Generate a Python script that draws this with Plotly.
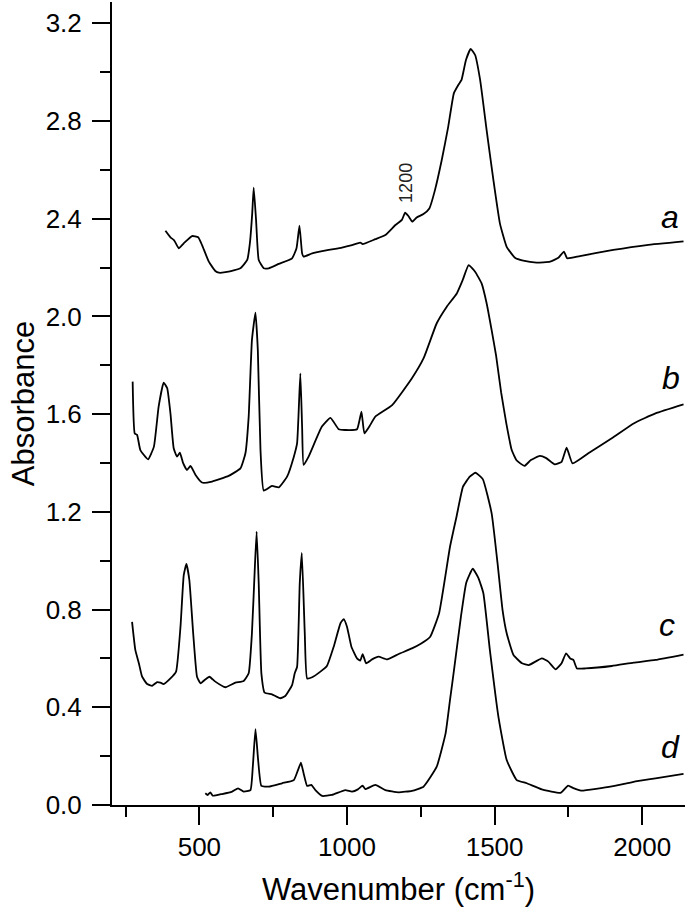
import plotly.graph_objects as go

# Spectrum a
a_x = [385, 402, 413, 419, 430, 447, 475, 496, 509, 532, 554, 566, 599, 639, 662, 671, 679, 684, 692, 701,
       718, 735, 769, 814, 829, 839, 848, 853, 882, 938, 983, 1017, 1045, 1053, 1096, 1130, 1164, 1186,
       1197, 1208, 1221, 1236, 1259, 1279, 1298, 1321, 1343, 1362, 1377, 1388, 1403, 1419, 1434, 1451,
       1473, 1496, 1518, 1541, 1569, 1597, 1642, 1688, 1716, 1735, 1746, 1789, 1902, 2015, 2140]
a_y = [2.351, 2.324, 2.313, 2.302, 2.279, 2.299, 2.329, 2.324, 2.292, 2.224, 2.186, 2.179, 2.183, 2.197,
       2.231, 2.299, 2.422, 2.527, 2.395, 2.231, 2.197, 2.197, 2.215, 2.238, 2.279, 2.372, 2.258, 2.245,
       2.258, 2.272, 2.282, 2.292, 2.302, 2.296, 2.316, 2.333, 2.374, 2.395, 2.425, 2.411, 2.388, 2.405,
       2.419, 2.442, 2.517, 2.640, 2.777, 2.913, 2.947, 2.968, 3.050, 3.095, 3.070, 2.968, 2.763, 2.558,
       2.381, 2.285, 2.240, 2.228, 2.220, 2.224, 2.240, 2.265, 2.238, 2.247, 2.272, 2.292, 2.307]

# Spectrum b
b_x = [274, 281, 289, 300, 326, 346, 362, 379, 391, 402, 413, 424, 434, 445, 458, 470, 487, 509, 543, 599,
       639, 656, 667, 678, 690, 698, 707, 718, 746, 769, 797, 820, 831, 842, 848, 853, 870, 915, 944, 972,
       994, 1034, 1049, 1059, 1079, 1096, 1153, 1220, 1260, 1304, 1338, 1372, 1392, 1412, 1434, 1456,
       1473, 1490, 1505, 1522, 1540, 1558, 1575, 1601, 1623, 1653, 1675, 1704, 1727, 1744, 1764, 1823,
       1897, 1971, 2045, 2140]
b_y = [1.733, 1.521, 1.515, 1.453, 1.415, 1.467, 1.631, 1.729, 1.706, 1.603, 1.460, 1.426, 1.442, 1.399,
       1.371, 1.388, 1.351, 1.320, 1.324, 1.347, 1.378, 1.440, 1.590, 1.903, 2.015, 1.862, 1.453, 1.287,
       1.306, 1.300, 1.344, 1.426, 1.481, 1.767, 1.549, 1.392, 1.426, 1.549, 1.585, 1.538, 1.535, 1.538,
       1.610, 1.521, 1.556, 1.590, 1.637, 1.747, 1.830, 1.972, 2.040, 2.094, 2.149, 2.210, 2.183, 2.135,
       2.054, 1.944, 1.840, 1.690, 1.560, 1.453, 1.410, 1.388, 1.412, 1.429, 1.420, 1.394, 1.405, 1.463,
       1.398, 1.444, 1.501, 1.562, 1.603, 1.640]

# Spectrum c
c_x = [272, 283, 295, 306, 323, 340, 357, 368, 379, 402, 421, 436, 447, 456, 466, 479, 492, 504, 520, 534,
       554, 588, 622, 650, 667, 678, 688, 694, 701, 710, 721, 746, 774, 791, 814, 823, 831, 840, 847, 857,
       865, 882, 910, 932, 955, 978, 989, 1000, 1015, 1034, 1045, 1053, 1065, 1085, 1107, 1136, 1175,
       1220, 1250, 1282, 1312, 1349, 1371, 1393, 1416, 1435, 1460, 1490, 1510, 1527, 1541, 1564, 1593,
       1616, 1660, 1682, 1707, 1727, 1742, 1756, 1767, 1779, 1808, 1897, 1971, 2045, 2140]
c_y = [0.750, 0.635, 0.580, 0.525, 0.495, 0.488, 0.503, 0.501, 0.495, 0.518, 0.546, 0.730, 0.941, 0.987,
       0.921, 0.703, 0.525, 0.498, 0.514, 0.525, 0.505, 0.482, 0.501, 0.508, 0.539, 0.703, 0.976, 1.119,
       0.907, 0.539, 0.460, 0.453, 0.437, 0.446, 0.491, 0.539, 0.566, 0.907, 1.032, 0.703, 0.518, 0.523,
       0.546, 0.569, 0.648, 0.744, 0.761, 0.730, 0.648, 0.600, 0.591, 0.618, 0.580, 0.596, 0.607, 0.596,
       0.618, 0.641, 0.660, 0.689, 0.785, 1.057, 1.180, 1.303, 1.344, 1.360, 1.334, 1.194, 0.990, 0.798,
       0.703, 0.614, 0.580, 0.573, 0.600, 0.587, 0.555, 0.580, 0.621, 0.600, 0.594, 0.559, 0.559, 0.569,
       0.583, 0.594, 0.616]

# Spectrum d
d_x = [520, 528, 537, 545, 577, 611, 631, 650, 673, 681, 690, 699, 710, 735, 780, 820, 834, 844, 853, 865,
       879, 893, 916, 949, 994, 1017, 1037, 1053, 1062, 1096, 1130, 1175, 1220, 1259, 1304, 1334, 1349,
       1364, 1386, 1404, 1426, 1445, 1462, 1484, 1513, 1541, 1575, 1609, 1660, 1724, 1749, 1767, 1793,
       1897, 1971, 2045, 2140]
d_y = [0.048, 0.041, 0.052, 0.038, 0.045, 0.055, 0.068, 0.055, 0.061, 0.157, 0.310, 0.184, 0.078, 0.075,
       0.089, 0.102, 0.143, 0.173, 0.130, 0.078, 0.082, 0.061, 0.037, 0.041, 0.061, 0.055, 0.064, 0.079,
       0.065, 0.082, 0.061, 0.052, 0.058, 0.075, 0.157, 0.293, 0.430, 0.566, 0.771, 0.910, 0.967, 0.930,
       0.867, 0.634, 0.361, 0.184, 0.102, 0.089, 0.064, 0.050, 0.079, 0.069, 0.059, 0.076, 0.095, 0.109,
       0.127]

curve_labels = ["a", "b", "c", "d"]
label_x = [2094, 2097, 2083, 2097]
label_y = [2.407, 1.748, 0.737, 0.237]

note_text = "1200"
note_x = 1202
note_y = 2.545

x_title = "Wavenumber (cm<sup>-1</sup>)"
y_title = "Absorbance"

FONT = "Liberation Sans, Arial, sans-serif"
fig = go.Figure()
for xs, ys in [(a_x, a_y), (b_x, b_y), (c_x, c_y), (d_x, d_y)]:
    fig.add_trace(go.Scatter(x=xs, y=ys, mode="lines",
                             line=dict(color="black", width=1.8, shape="spline", smoothing=0.4),
                             showlegend=False, hoverinfo="skip"))

for t, lx, ly in zip(curve_labels, label_x, label_y):
    fig.add_annotation(x=lx, y=ly, text="<i>" + t + "</i>", showarrow=False,
                       font=dict(family=FONT, size=32, color="black"))

fig.add_annotation(x=note_x, y=note_y, text=note_text, showarrow=False, textangle=-90,
                   font=dict(family=FONT, size=18, color="#222222"))

fig.update_layout(
    width=685, height=907,
    margin=dict(l=112, r=0, t=2, b=102),
    paper_bgcolor="white", plot_bgcolor="white",
    font=dict(family=FONT, color="black"),
)
fig.update_xaxes(
    range=[204, 2145], showgrid=False, zeroline=False,
    showline=True, linecolor="black", linewidth=2,
    ticks="outside", ticklen=18, tickwidth=2, tickcolor="black",
    tick0=0, dtick=500, tickfont=dict(size=26, family=FONT),
    minor=dict(dtick=250, ticks="outside", ticklen=10, tickwidth=2, tickcolor="black"),
    title=dict(text=x_title, font=dict(size=31, family=FONT), standoff=18),
)
fig.update_yaxes(
    range=[0, 3.287], showgrid=False, zeroline=False,
    showline=True, linecolor="black", linewidth=2,
    ticks="outside", ticklen=18, tickwidth=2, tickcolor="black",
    tick0=0, dtick=0.4, tickformat=".1f", tickfont=dict(size=26, family=FONT),
    ticklabelstandoff=5,
    minor=dict(dtick=0.2, ticks="outside", ticklen=10, tickwidth=2, tickcolor="black"),
    title=dict(text=y_title, font=dict(size=31, family=FONT), standoff=2),
)

fig.write_html("out.html", config={"displayModeBar": False},
               post_script="document.body.style.margin='0px';document.body.style.overflow='hidden';")
